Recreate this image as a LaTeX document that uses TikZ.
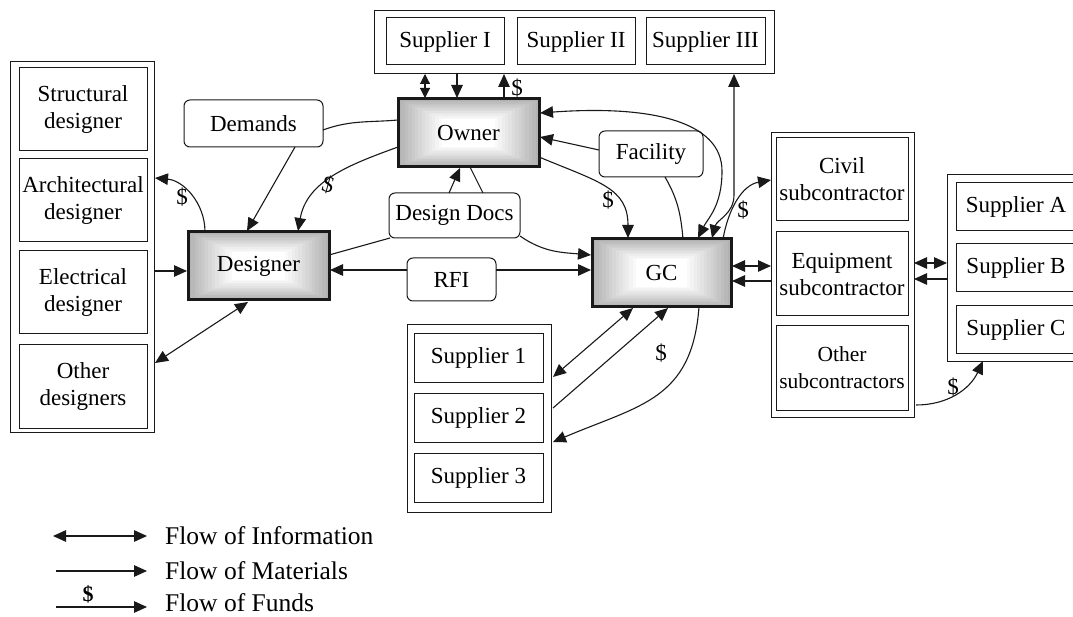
\documentclass[tikz,border=0pt]{standalone}
\usepackage{fontspec}
\setmainfont{Liberation Serif}
\usetikzlibrary{arrows.meta,calc,backgrounds}
\colorlet{hubgray}{black!30}
\newcommand\hubshade[1]{%
  \begin{pgfonlayer}{background}
  \foreach \i in {0,...,18}{%
    \pgfmathsetmacro\p{min(100,\i*100/13)}%
    \fill[white!\p!hubgray] ($(#1.south west)+(\i*3.4,\i*1.55)$) rectangle ($(#1.north east)-(\i*3.4,\i*1.55)$);
  }
  \end{pgfonlayer}}
\begin{document}
\begin{tikzpicture}[x=1pt,y=1pt,
  box/.style={draw=black!90, line width=1pt, inner sep=0pt, outer sep=0pt, align=center,
    font=\fontsize{23}{27}\selectfont},
  rbox/.style={box, rounded corners=6pt, fill=white},
  hub/.style={box, line width=3pt},
  grp/.style={draw=black!90, line width=1pt, inner sep=0pt, outer sep=0pt},
  lbl/.style={inner sep=0pt, font=\fontsize{23}{27}\selectfont},
  leg/.style={inner sep=0pt, anchor=base west, font=\fontsize{25.5}{28}\selectfont},
  ln/.style={line width=1.1pt, draw=black!90},
  ar/.style={ln, -{Triangle[length=13pt,width=11.5pt]}},
  dar/.style={ln, {Triangle[length=13pt,width=11.5pt]}-{Triangle[length=13pt,width=11.5pt]}},
  sdar/.style={ln, {Triangle[length=10pt,width=10pt]}-{Triangle[length=10pt,width=10pt]}}
]
\useasboundingbox (0,0) rectangle (1073,-617);

% ---- left designers group
\node[grp, minimum width=144, minimum height=370] (outerL) at (82,-247) {};
\node[box, minimum width=128, minimum height=83] (struct) at (83,-109.5) {Structural\\designer};
\node[box, minimum width=128, minimum height=83] (arch) at (83,-200.5) {Architectural\\designer};
\node[box, minimum width=128, minimum height=83] (elec) at (83,-292.5) {Electrical\\designer};
\node[box, minimum width=128, minimum height=83] (otherd) at (83,-386.5) {Other\\designers};

% ---- top suppliers
\node[grp, minimum width=400, minimum height=63] (topouter) at (574,-42.5) {};
\node[box, minimum width=118, minimum height=47] (sI) at (445,-41.5) {Supplier I};
\node[box, minimum width=118, minimum height=47] (sII) at (576,-41.5) {Supplier II};
\node[box, minimum width=119, minimum height=47] (sIII) at (705.5,-41.5) {Supplier III};

% ---- hubs
\node[hub, minimum width=141, minimum height=68] (owner) at (468.5,-133) {Owner};
\node[hub, minimum width=141, minimum height=68] (designer) at (258.5,-266) {Designer};
\node[hub, minimum width=139, minimum height=68] (gc) at (661.5,-273) {GC};
\hubshade{owner}
\hubshade{designer}
\hubshade{gc}

% ---- rounded labels
\node[rbox, minimum width=139, minimum height=47] (demands) at (253.5,-123.5) {Demands};
\node[rbox, minimum width=104, minimum height=46] (facility) at (651,-154) {Facility};
\node[rbox, minimum width=131, minimum height=45] (dd) at (454.5,-215.5) {Design Docs};
\node[rbox, minimum width=89, minimum height=43] (rfi) at (451.5,-279.5) {RFI};

% ---- suppliers 1-3
\node[grp, minimum width=144, minimum height=187] (s123) at (479,-418.5) {};
\node[box, minimum width=129, minimum height=48] (s1) at (478.5,-358) {Supplier 1};
\node[box, minimum width=129, minimum height=49] (s2) at (478.5,-417.5) {Supplier 2};
\node[box, minimum width=129, minimum height=49] (s3) at (478.5,-477.5) {Supplier 3};

% ---- subcontractors
\node[grp, minimum width=143, minimum height=284] (subouter) at (842.5,-275) {};
\node[box, minimum width=132, minimum height=83] (civil) at (842,-179.5) {Civil\\subcontractor};
\node[box, minimum width=132, minimum height=84] (equip) at (842,-274) {Equipment\\subcontractor};
\node[box, minimum width=132, minimum height=84, font=\fontsize{21.5}{27}\selectfont] (othersub) at (842,-368) {Other\\subcontractors};

% ---- suppliers A-C
\node[grp, minimum width=143, minimum height=186] (abcouter) at (1018.5,-268) {};
\node[box, minimum width=120, minimum height=48] (sA) at (1016,-207) {Supplier A};
\node[box, minimum width=120, minimum height=48] (sB) at (1016,-268) {Supplier B};
\node[box, minimum width=120, minimum height=48] (sC) at (1016,-330) {Supplier C};

% ---- connectors around designer
\draw[ar] ($(designer.north west)+(17,0)$) to[out=90,in=-5] ($(outerL.north east)+(1,-116)$);
\node[lbl] (m1) at (182,-197) {\$};
\draw[ar] ($(outerL.north east)+(0,-209)$) -- ($(designer.north west)+(-1,-39)$);
\draw[dar] ($(outerL.north east)+(1,-301)$) -- ($(designer.south west)+(60,-2)$);
\draw[ln] ($(owner.north west)+(0,-21)$) to[out=185,in=20] ($(demands.north east)+(0,-30)$);
\draw[ar] ($(demands.south west)+(111,0)$) -- ($(designer.north west)+(59,1)$);
\draw[ar] ($(owner.north west)+(0,-48)$) to[out=200,in=80] ($(designer.north west)+(110,1)$);
\node[lbl, rotate=-15] (m2) at (328,-185) {\$};

% ---- owner / top suppliers
\draw[sdar] ($(topouter.south west)+(51,0)$) -- ($(owner.north west)+(27,1)$);
\draw[ar] ($(topouter.south west)+(83,0)$) -- ($(owner.north west)+(59,1)$);
\draw[ar] ($(owner.north west)+(106,1)$) -- ($(topouter.south west)+(130,0)$);
\node[lbl] (m3) at (517,-88) {\$};
\draw[dar] ($(topouter.south west)+(360,0)$) -- ++(0,-121) to[out=-90,in=75] ($(gc.north west)+(120,1)$);
\draw[dar] ($(owner.north east)+(1,-14)$) .. controls +(110,8) and +(0,50) .. ($(facility.north east)+(19,-40)$) .. controls +(0,-35) and +(10,20) .. ($(gc.north west)+(106,1)$);
\draw[ar] ($(facility.north west)+(0,-19)$) -- ($(owner.north east)+(1,-38)$);
\draw[ln] ($(facility.south west)+(66,0)$) to[out=-60,in=95] ($(gc.north west)+(91,0)$);
\draw[ar] ($(owner.south east)+(0,10)$) .. controls +(60,-25) and +(0,50) .. ($(gc.north west)+(36,1)$);
\node[lbl] (m4) at (608,-200) {\$};

% ---- design docs / RFI
\draw[ar] ($(dd.north west)+(60,0)$) -- ($(owner.south west)+(62,-1)$);
\draw[ln] ($(dd.north west)+(94,0)$) -- ($(owner.south west)+(72,0)$);
\draw[ln] ($(dd.south west)+(1,0)$) -- ($(designer.north east)+(0,-23)$);
\draw[ar] ($(dd.south east)+(0,2)$) to[out=-35,in=175] ($(gc.north west)+(-1,-16)$);
\draw[ar] ($(rfi.north west)+(0,-12)$) -- ($(designer.north east)+(1,-38)$);
\draw[ar] ($(rfi.north east)+(0,-12)$) -- ($(gc.north west)+(-1,-31)$);

% ---- GC / subcontractors
\draw[dar] ($(gc.north east)+(1,-27)$) -- ($(subouter.north west)+(0,-133)$);
\draw[ar] ($(subouter.north west)+(0,-148)$) -- ($(gc.north east)+(1,-42)$);
\draw[ar] ($(gc.north west)+(131,0)$) to[out=80,in=190] ($(subouter.north west)+(0,-47)$);
\node[lbl] (m5) at (743,-210) {\$};

% ---- GC / suppliers 1-3
\draw[dar] ($(gc.south west)+(41,-1)$) -- ($(s123.north east)+(2,-52)$);
\draw[ar] ($(s123.north east)+(2,-83)$) -- ($(gc.south west)+(76,-1)$);
\draw[ar] ($(gc.south west)+(107,0)$) .. controls +(-7,-93) and +(87,37) .. ($(s123.north east)+(2,-117)$);
\node[lbl] (m6) at (661,-353) {\$};

% ---- subcontractors / suppliers A-C
\draw[dar] ($(subouter.north east)+(0,-130)$) -- ($(abcouter.north west)+(0,-88)$);
\draw[ar] ($(abcouter.north west)+(0,-104)$) -- ($(subouter.north east)+(0,-146)$);
\draw[ar] ($(subouter.south east)+(2,12)$) to[out=0,in=245] ($(abcouter.south west)+(36,0)$);
\node[lbl] (m7) at (953,-387) {\$};

% ---- legend
\coordinate (l1a) at (53,-536);  \coordinate (l1b) at (147,-536);
\coordinate (l2a) at (56,-571);  \coordinate (l2b) at (147,-571);
\coordinate (l3a) at (56,-607);  \coordinate (l3b) at (147,-607);
\draw[dar] (l1a) -- (l1b);
\draw[ar] (l2a) -- (l2b);
\draw[ar] (l3a) -- (l3b);
\node[leg] (t1) at (165,-544) {Flow of Information};
\node[leg] (t2) at (165,-579) {Flow of Materials};
\node[leg] (t3) at (165,-611) {Flow of Funds};
\node[lbl, font=\fontsize{22}{24}\selectfont\bfseries] (t4) at (88,-594) {\$};
\end{tikzpicture}
\end{document}
